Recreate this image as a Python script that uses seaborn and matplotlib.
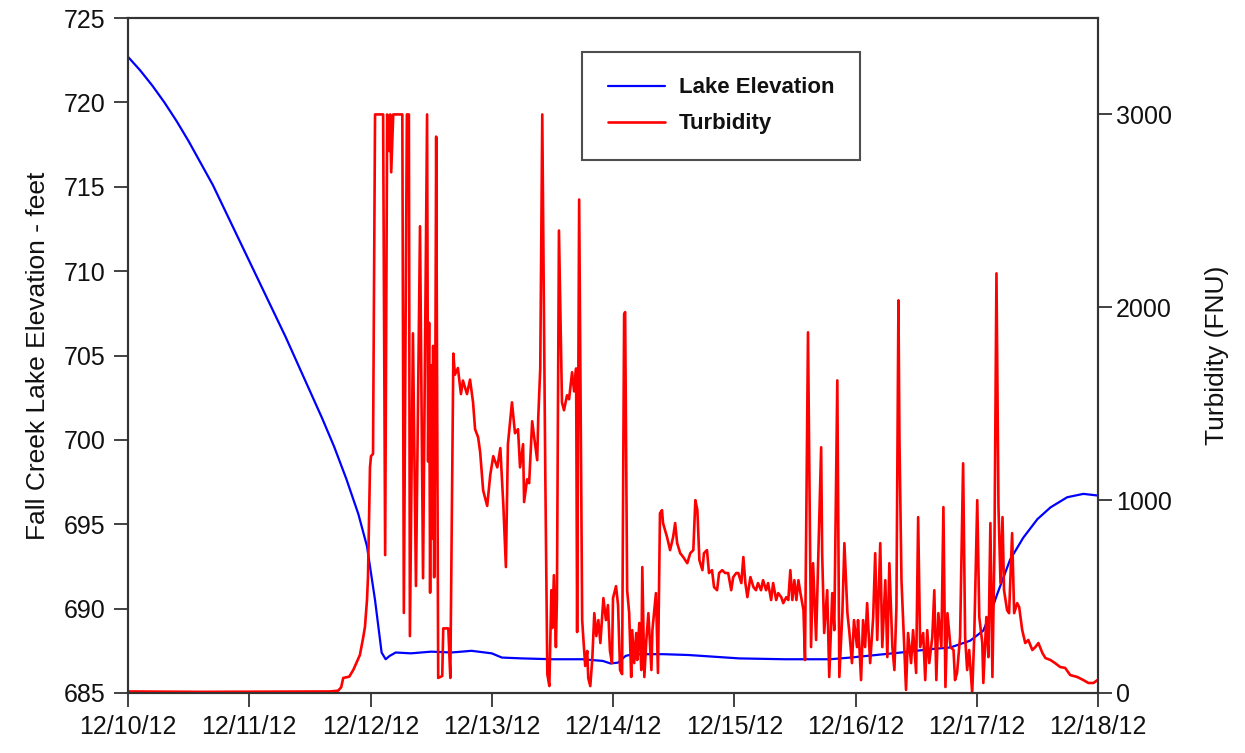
import matplotlib
matplotlib.use("Agg")
import matplotlib.pyplot as plt
import seaborn as sns
import pandas as pd

# ---- data (hours since 12/10/12 00:00) ----
elev_hours = [0, 2.4, 4.8, 7.2, 9.6, 12, 14.4, 16.8, 19.2, 21.6, 24, 26.4, 28.8, 31.2,
              33.6, 36, 38.4, 40.8, 43.2, 45.6, 47.3, 48.9, 50.2, 51.0, 51.8, 53, 56,
              60, 64, 68, 72, 74, 78, 84, 90, 94, 95.5, 97, 98.5, 100, 106, 111, 116,
              121, 130, 139, 143, 153, 159, 162.8, 166.7, 169.3, 170.7, 172.1, 174.6,
              177.2, 180.0, 182.6, 185.9, 189.1, 192]
elev_feet = [722.7, 721.9, 721.0, 720.0, 718.9, 717.7, 716.4, 715.1, 713.6, 712.1, 710.6,
             709.1, 707.6, 706.1, 704.5, 702.9, 701.3, 699.6, 697.7, 695.6, 693.7, 690.5,
             687.4, 687.0, 687.2, 687.4, 687.35, 687.45, 687.4, 687.5, 687.35, 687.1,
             687.05, 687.0, 687.0, 686.9, 686.75, 686.8, 687.2, 687.3, 687.3, 687.25,
             687.15, 687.05, 687.0, 687.0, 687.1, 687.4, 687.6, 687.7, 688.1, 688.7,
             689.7, 690.9, 692.9, 694.2, 695.3, 696.0, 696.6, 696.8, 696.7]

turb_hours = [0, 14.3, 26.1, 40.0, 41.6, 42.2, 42.6, 43.8, 44.6, 45.1, 45.9, 46.5, 46.9,
              47.3, 47.5, 47.9, 48.1, 48.5, 48.9, 50.5, 50.9, 51.3, 51.7, 51.9, 52.1,
              52.5, 54.3, 54.6, 55.2, 55.6, 55.8, 56.4, 57.0, 57.8, 58.4, 59.2, 59.4,
              59.6, 59.8, 60.0, 60.2, 60.4, 60.6, 60.8, 61.0, 61.4, 62.2, 62.4, 63.4,
              63.8, 64.4, 64.7, 65.3, 65.9, 66.3, 67.1, 67.7, 68.3, 68.7, 69.3, 69.7,
              70.3, 71.1, 71.7, 72.3, 73.1, 73.7, 74.1, 74.3, 74.8, 75.2, 76.0, 76.6,
              77.2, 77.6, 78.2, 78.4, 79.0, 79.4, 80.0, 80.4, 81.0, 81.2, 81.6, 82.0,
              82.6, 83.0, 83.4, 83.8, 84.0, 84.3, 84.7, 84.9, 85.3, 85.9, 86.3, 86.9,
              87.3, 87.9, 88.3, 88.7, 88.9, 89.3, 89.9, 90.1, 90.5, 90.9, 91.1, 91.5,
              91.9, 92.3, 92.7, 93.1, 93.5, 94.1, 94.6, 95.0, 95.4, 95.8, 96.0, 96.6,
              97.0, 97.4, 97.8, 98.2, 98.4, 98.8, 99.2, 99.6, 99.8, 100.2, 100.6, 100.8,
              101.2, 101.6, 101.8, 102.2, 102.6, 103.0, 103.6, 103.8, 104.5, 104.9,
              105.3, 105.7, 105.9, 106.7, 107.3, 107.9, 108.3, 108.7, 109.3, 109.9,
              110.7, 111.3, 111.9, 112.3, 112.7, 113.1, 113.7, 114.0, 114.6, 115.0,
              115.6, 116.0, 116.6, 117.0, 117.6, 118.2, 118.8, 119.4, 119.8, 120.4,
              120.8, 121.4, 121.8, 122.2, 122.6, 123.2, 123.8, 124.3, 124.7, 125.3,
              125.7, 126.3, 126.7, 127.3, 127.7, 128.3, 128.7, 129.3, 129.7, 130.3,
              130.7, 131.1, 131.5, 131.9, 132.3, 132.7, 133.1, 133.7, 134.0, 134.6,
              135.2, 135.6, 136.2, 136.6, 137.2, 137.4, 137.8, 138.4, 138.8, 139.4,
              139.8, 140.4, 140.8, 141.4, 141.8, 142.4, 142.8, 143.3, 143.7, 144.3,
              144.5, 145.1, 145.5, 145.9, 146.3, 146.9, 147.5, 147.9, 148.3, 148.9,
              149.3, 149.9, 150.3, 150.7, 151.3, 151.7, 152.1, 152.5, 152.7, 153.1,
              153.5, 154.0, 154.4, 155.0, 155.4, 156.0, 156.4, 156.8, 157.4, 157.8,
              158.2, 158.6, 159.2, 159.6, 160.0, 160.4, 161.0, 161.4, 161.8, 162.2,
              162.8, 163.4, 163.7, 164.1, 164.7, 165.3, 165.7, 166.1, 166.5, 167.1,
              167.5, 168.1, 168.5, 169.1, 169.3, 169.9, 170.3, 170.7, 171.1, 171.5,
              171.9, 172.3, 172.7, 173.1, 173.4, 174.0, 174.4, 175.0, 175.4, 176.0,
              176.4, 177.0, 177.6, 178.2, 179.0, 179.6, 180.2, 181.0, 181.6, 182.6,
              183.5, 184.5, 185.5, 186.5, 187.9, 189.1, 190.1, 191.1, 191.9]
turb_fnu = [8, 6, 7, 8, 12, 30, 78, 85, 120, 150, 197, 280, 342,
            480, 600, 1170, 1228, 1240, 3000, 3000, 715, 3000, 2810, 3000, 2700,
            3000, 3000, 415, 3000, 3000, 295, 1865, 555, 2420, 595, 3000, 1200,
            1920, 520, 1700, 800, 1800, 600, 1400, 2885, 78, 88, 335, 335,
            78, 1760, 1650, 1685, 1550, 1620, 1550, 1625, 1507, 1368, 1326, 1250,
            1050, 970, 1130, 1228, 1170, 1270, 1067, 970, 653, 1290, 1507, 1347,
            1368, 1170, 1290, 990, 1108, 1088, 1409, 1326, 1207, 1425, 1683, 3000,
            1130, 98, 36, 533, 337, 611, 238, 492, 2398, 1507, 1466, 1544,
            1523, 1663, 1564, 1683, 316, 2559, 378, 295, 140, 218, 78, 36,
            176, 414, 295, 378, 259, 492, 378, 456, 218, 155, 492, 554,
            456, 119, 98, 1963, 1975, 533, 414, 83, 326, 155, 311, 171,
            363, 119, 653, 83, 275, 414, 119, 326, 518, 104,
            932, 948, 881, 808, 741, 808, 881, 777, 725, 705,
            673, 725, 741, 1000, 948, 689, 637, 725, 741, 622,
            637, 549, 533, 622, 637, 622, 622, 533, 601, 622,
            622, 570, 705, 570, 497, 601, 549, 533, 570, 533,
            585, 533, 570, 482, 570, 482, 518, 497, 466, 497,
            482, 637, 482, 585, 482, 585, 518, 430, 171, 1870,
            238, 673, 275, 673, 1274, 725, 311, 533, 83, 518,
            326, 1621, 83, 414, 777, 414, 311, 155, 378, 238,
            378, 67, 378, 238, 466, 155, 394, 725, 275, 777,
            238, 585, 186, 673, 238, 119, 445, 2036, 1311, 585,
            326, 16, 311, 155, 326, 104, 912, 238, 311, 67,
            326, 155, 290, 533, 67, 414, 238, 964, 31, 414,
            238, 223, 67, 104, 290, 1191, 290, 119, 223, 0,
            290, 1000, 394, 259, 52, 394, 186, 881, 83, 741,
            2176, 964, 570, 912, 533, 430, 414, 829, 414, 466,
            445, 326, 259, 275, 223, 238, 259, 207, 181, 171,
            155, 135, 130, 93, 83, 67, 52, 52, 67]

date_hours = [0, 24, 48, 72, 96, 120, 144, 168, 192]
date_labels = ["12/10/12", "12/11/12", "12/12/12", "12/13/12", "12/14/12",
               "12/15/12", "12/16/12", "12/17/12", "12/18/12"]
elev_ticks = [685, 690, 695, 700, 705, 710, 715, 720, 725]
turb_ticks = [0, 1000, 2000, 3000]

elev_df = pd.DataFrame({"hours": elev_hours, "feet": elev_feet})
turb_df = pd.DataFrame({"hours": turb_hours, "fnu": turb_fnu})

sns.set_style("ticks")
plt.rcParams["font.family"] = ["Liberation Sans Narrow", "Liberation Sans", "DejaVu Sans"]

fig = plt.figure(figsize=(12.45, 7.53), dpi=100)
ax = fig.add_axes([128 / 1245, 60 / 753, 970 / 1245, 675 / 753])
ax2 = ax.twinx()

sns.lineplot(data=elev_df, x="hours", y="feet", ax=ax, color="#0000ff", lw=1.6,
             label="Lake Elevation", legend=False)
sns.lineplot(data=turb_df, x="hours", y="fnu", ax=ax2, color="#ff0000", lw=1.9,
             label="Turbidity", legend=False)

ax.set_xlim(date_hours[0], date_hours[-1])
ax.set_ylim(elev_ticks[0], elev_ticks[-1])
ax2.set_ylim(0, 3500)
ax.set_xticks(date_hours)
ax.set_xticklabels(date_labels)
ax.set_yticks(elev_ticks)
ax2.set_yticks(turb_ticks)

tick_col = "#333333"
for a in (ax, ax2):
    a.tick_params(direction="out", length=10, width=1.3, color=tick_col,
                  labelsize=18, labelcolor="#111111", pad=6)
    for s in a.spines.values():
        s.set_color(tick_col)
        s.set_linewidth(1.5)
ax2.tick_params(axis="y", pad=3)
ax.tick_params(axis="x", pad=6)

ax.set_xlabel("")
ax.set_ylabel("Fall Creek Lake Elevation - feet", fontsize=19, labelpad=10,
              color="#111111")
ax2.set_ylabel("Turbidity (FNU)", fontsize=19, labelpad=24, color="#111111")

h1, l1 = ax.get_legend_handles_labels()
h2, l2 = ax2.get_legend_handles_labels()
leg = ax2.legend(h1 + h2, l1 + l2, loc="upper left", bbox_to_anchor=(0.468, 0.950),
                 frameon=True, fancybox=False, edgecolor="#222222",
                 prop={"weight": "bold", "size": 16}, handlelength=2.6,
                 handletextpad=0.6, borderpad=1.15, labelspacing=0.68,
                 borderaxespad=0)
leg.get_frame().set_linewidth(1.5)
leg.set_zorder(10)
for t in leg.get_texts():
    t.set_color("#111111")

fig.savefig("out.png", dpi=100)
